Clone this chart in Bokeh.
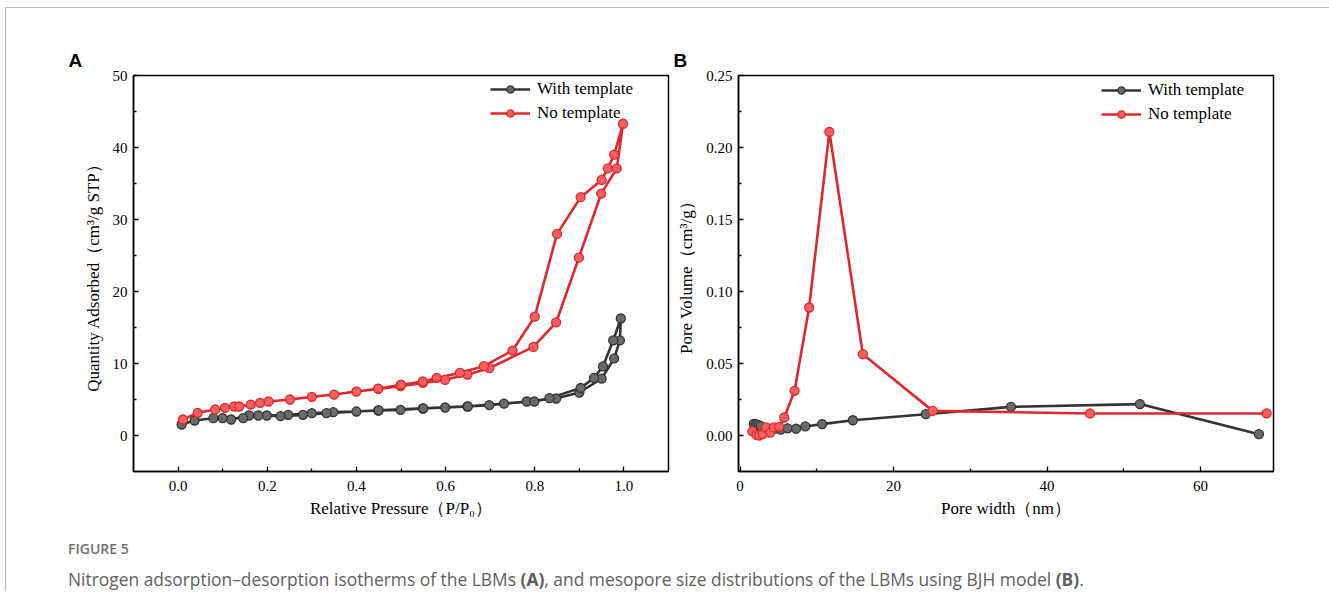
from bokeh.plotting import figure
from bokeh.models import (FixedTicker, PrintfTickFormatter, Legend, LegendItem,
                          Div, Title, Range1d)
from bokeh.layouts import row, column
from bokeh.embed import file_html
from bokeh.resources import INLINE

# ---------------- data: panel A (N2 isotherms) ----------------
pa_with_ads = [0.008, 0.037, 0.079, 0.119, 0.159, 0.199, 0.247, 0.30, 0.348, 0.40, 0.449,
               0.499, 0.549, 0.599, 0.649, 0.698, 0.782, 0.848, 0.90, 0.95, 0.978, 0.991, 0.993]
qa_with_ads = [1.53, 2.08, 2.40, 2.22, 2.78, 2.78, 2.87, 3.10, 3.24, 3.33, 3.47,
               3.56, 3.75, 3.89, 4.03, 4.21, 4.72, 5.14, 5.97, 7.90, 10.7, 13.2, 16.25]
pa_with_des = [0.993, 0.976, 0.953, 0.933, 0.903, 0.833, 0.799, 0.731, 0.65, 0.55,
               0.45, 0.333, 0.28, 0.23, 0.18, 0.146, 0.10]
qa_with_des = [16.25, 13.2, 9.6, 8.0, 6.6, 5.19, 4.72, 4.44, 4.05, 3.77,
               3.50, 3.10, 2.87, 2.69, 2.78, 2.40, 2.40]

pa_no_ads = [0.011, 0.044, 0.083, 0.105, 0.126, 0.137, 0.163, 0.184, 0.203, 0.251, 0.30,
             0.35, 0.40, 0.449, 0.499, 0.549, 0.599, 0.649, 0.698, 0.797, 0.848, 0.899,
             0.949, 0.984, 0.998]
qa_no_ads = [2.22, 3.15, 3.61, 3.84, 4.03, 4.03, 4.30, 4.54, 4.72, 5.00, 5.37,
             5.69, 6.11, 6.48, 6.85, 7.30, 7.73, 8.47, 9.35, 12.3, 15.7, 24.7,
             33.6, 37.1, 43.3]
pa_no_des = [0.998, 0.978, 0.964, 0.95, 0.903, 0.85, 0.80, 0.75, 0.686, 0.632, 0.58,
             0.549, 0.50, 0.449]
qa_no_des = [43.3, 39.0, 37.1, 35.5, 33.1, 28.0, 16.5, 11.8, 9.63, 8.70, 8.00,
             7.50, 7.05, 6.50]

# ---------------- data: panel B (BJH pore size distribution) ----------------
wb_with = [1.8, 2.1, 2.4, 2.7, 3.5, 4.5, 5.3, 6.2, 7.3, 8.5, 10.7, 14.7, 24.2, 35.3, 52.1, 67.6]
vb_with = [0.0080, 0.0078, 0.0072, 0.0065, 0.0050, 0.0046, 0.0041, 0.0050, 0.0047, 0.0063,
           0.0079, 0.0106, 0.0148, 0.0199, 0.0218, 0.0009]
wb_no = [1.6, 2.15, 2.5, 2.96, 3.4, 3.95, 4.4, 5.1, 5.76, 7.1, 9.0, 11.64, 16.0, 25.1, 45.6, 68.6]
vb_no = [0.0028, 0.0005, 0.0, 0.0010, 0.0056, 0.0020, 0.0056, 0.0060, 0.0125, 0.031,
         0.0889, 0.2109, 0.0565, 0.0171, 0.0153, 0.0153]

series_labels = ["With template", "No template"]

a_xticks = [0.0, 0.2, 0.4, 0.6, 0.8, 1.0]
a_xminor = [0.1, 0.3, 0.5, 0.7, 0.9]
a_yticks = [0, 10, 20, 30, 40, 50]
a_yminor = [5, 15, 25, 35, 45]
b_xticks = [0, 20, 40, 60]
b_xminor = [10, 30, 50]
b_yticks = [0.0, 0.05, 0.10, 0.15, 0.20, 0.25]
b_yminor = [0.025, 0.075, 0.125, 0.175, 0.225]

SERIF = "Liberation Serif"
BLACK_LINE, BLACK_FILL = "#333333", "#6a6a6a"
RED_LINE, RED_FILL = "#e0282c", "#f26060"


def make_fig(width, height, xr, yr, bl, br, bt, bb):
    p = figure(width=width, height=height, x_range=Range1d(*xr), y_range=Range1d(*yr),
               output_backend="svg", toolbar_location=None,
               min_border_left=bl, min_border_right=br, min_border_top=bt, min_border_bottom=bb)
    p.xgrid.visible = False
    p.ygrid.visible = False
    p.outline_line_color = "black"
    p.outline_line_width = 1.5
    p.outline_line_alpha = 1
    p.background_fill_color = "white"
    p.border_fill_color = "white"
    for ax in (p.xaxis[0], p.yaxis[0]):
        ax.axis_line_width = 1.5
        ax.axis_line_color = "black"
        ax.major_tick_in = 5
        ax.major_tick_out = 0
        ax.minor_tick_in = 3
        ax.minor_tick_out = 0
        ax.major_tick_line_width = 1.3
        ax.minor_tick_line_width = 1.3
        ax.major_label_text_font = SERIF
        ax.major_label_text_font_size = "15px"
        ax.major_label_text_color = "black"
        ax.axis_label_text_font = SERIF
        ax.axis_label_text_font_size = "17px"
        ax.axis_label_text_font_style = "normal"
        ax.axis_label_text_color = "black"
    p.xaxis[0].major_label_standoff = 9
    p.xaxis[0].axis_label_standoff = 5
    p.yaxis[0].major_label_standoff = 6
    p.yaxis[0].axis_label_standoff = 7
    return p


def add_series(p, xs, ys, line_c, fill_c):
    ln = p.line(xs, ys, line_color=line_c, line_width=2.6)
    sc = p.scatter(xs, ys, marker="circle", size=9, fill_color=fill_c,
                   line_color=line_c, line_width=1.3)
    return ln, sc


def add_legend(p, items, loc):
    lg = Legend(items=items, location=loc, border_line_color=None,
                background_fill_alpha=0, label_text_font=SERIF,
                label_text_font_size="17px", label_text_color="black",
                glyph_width=40, glyph_height=18, label_height=18,
                label_standoff=7, spacing=4, padding=4, margin=0)
    p.add_layout(lg)


def add_panel_title(p, txt):
    p.add_layout(Title(text=txt, align="left", offset=-65, text_font="Liberation Sans",
                       text_font_size="19px", text_font_style="bold",
                       text_color="black", standoff=9), "above")


# ---------------- panel A ----------------
pA = make_fig(667, 518, (-0.1, 1.1), (-5, 50), 127, 5, 67, 55)
pA.xaxis[0].ticker = FixedTicker(ticks=a_xticks, minor_ticks=a_xminor)
pA.xaxis[0].formatter = PrintfTickFormatter(format="%.1f")
pA.yaxis[0].ticker = FixedTicker(ticks=a_yticks, minor_ticks=a_yminor)
pA.xaxis[0].axis_label = "Relative Pressure（P/P₀）"
pA.yaxis[0].axis_label = "Quantity Adsorbed（cm³/g STP）"

lw1, sw1 = add_series(pA, pa_with_ads + pa_with_des[1:], qa_with_ads + qa_with_des[1:],
                      BLACK_LINE, BLACK_FILL)
ln1, sn1 = add_series(pA, pa_no_ads + pa_no_des[1:], qa_no_ads + qa_no_des[1:],
                      RED_LINE, RED_FILL)
add_legend(pA, [LegendItem(label=series_labels[0], renderers=[lw1, sw1]),
                LegendItem(label=series_labels[1], renderers=[ln1, sn1])], (357, 348))
add_panel_title(pA, "A")

# ---------------- panel B ----------------
pB = make_fig(656, 518, (-0.2, 69.5), (-0.025, 0.25), 65, 56, 67, 55)
pB.xaxis[0].ticker = FixedTicker(ticks=b_xticks, minor_ticks=b_xminor)
pB.yaxis[0].ticker = FixedTicker(ticks=b_yticks, minor_ticks=b_yminor)
pB.yaxis[0].formatter = PrintfTickFormatter(format="%.2f")
pB.xaxis[0].axis_label = "Pore width（nm）"
pB.yaxis[0].axis_label = "Pore Volume（cm³/g）"

lw2, sw2 = add_series(pB, wb_with, vb_with, BLACK_LINE, BLACK_FILL)
ln2, sn2 = add_series(pB, wb_no, vb_no, RED_LINE, RED_FILL)
add_legend(pB, [LegendItem(label=series_labels[0], renderers=[lw2, sw2]),
                LegendItem(label=series_labels[1], renderers=[ln2, sn2])], (363, 347))
add_panel_title(pB, "B")

# ---------------- caption ----------------
fig_label = Div(text="FIGURE 5", width=300, height=18, margin=(14, 0, 0, 62),
                styles={"font-family": "Open Sans", "font-size": "14px", "color": "#707070",
                        "font-weight": "600", "line-height": "18px"})
caption = Div(text="Nitrogen adsorption–desorption isotherms of the LBMs <b>(A)</b>, and mesopore "
                   "size distributions of the LBMs using BJH model <b>(B)</b>.",
              width=1240, height=22, margin=(10, 0, 0, 62),
              styles={"font-family": "Open Sans", "font-size": "17.4px", "color": "#606060",
                      "line-height": "22px"})

layout = column(row(pA, pB), fig_label, caption, margin=(7, 0, 0, 5),
                styles={"border-top": "1px solid #b8b8b8", "border-left": "1px solid #b8b8b8"})

open("out.html", "w").write(file_html(layout, INLINE))
